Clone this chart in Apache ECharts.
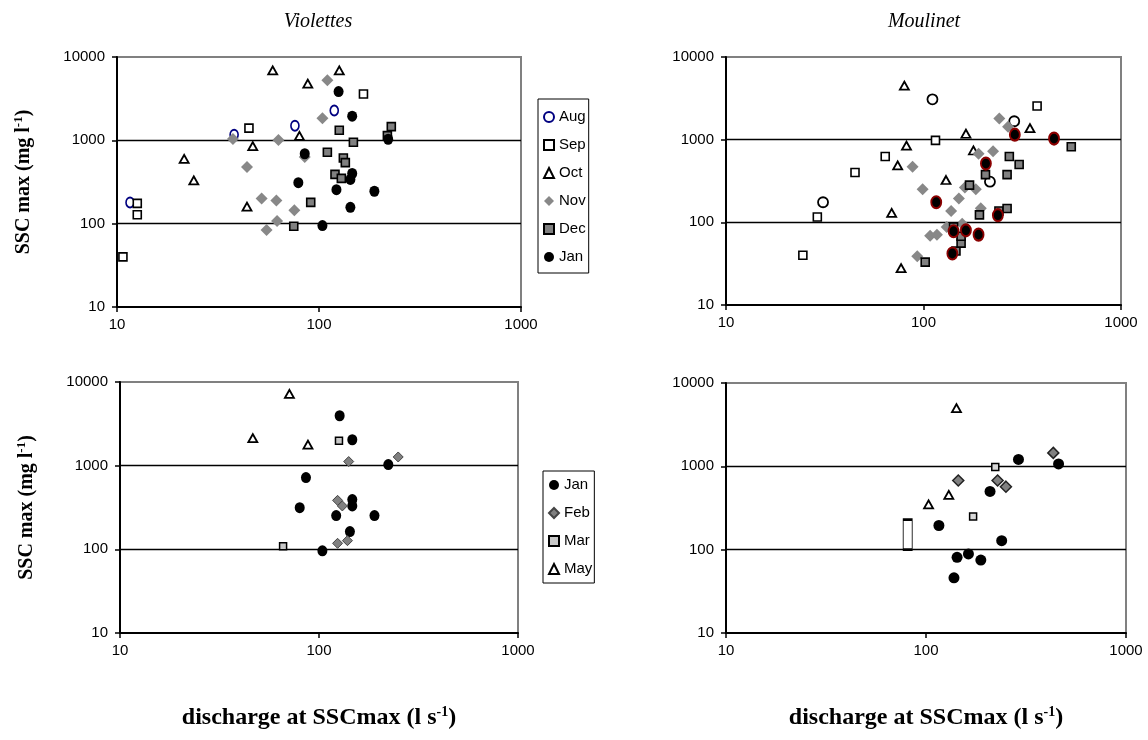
<!DOCTYPE html>
<html><head><meta charset="utf-8">
<script src="https://cdn.jsdelivr.net/npm/echarts@6/dist/echarts.min.js"></script>
<style>html,body{margin:0;padding:0;background:#fff}#c{width:1148px;height:740px}</style>
</head><body><div id="c"></div>
<script>
// ---- tick labels ----
const xTickLabels = ['10', '100', '1000'];
const yTickLabels = ['10', '100', '1000', '10000'];
const panelTitles = ['Violettes', 'Moulinet'];
const legendTop = ['Aug', 'Sep', 'Oct', 'Nov', 'Dec', 'Jan'];
const legendBottom = ['Jan', 'Feb', 'Mar', 'May'];

// ---- Violettes, autumn (discharge l/s, SSC mg/l) ----
const violAug = [[11.6,180],[38,1170],[76,1500],[119,2280]];
const violSep = [[10.7,40],[12.6,175],[12.6,128],[45,1400],[166,3600]];
const violOct = [[21.5,600],[24,330],[44,160],[47,850],[59,6900],[88,4800],[80,1130],[126,6900]];
const violNov = [[37.5,1040],[44,480],[52,200],[61.5,190],[55,84],[62,108],[63,1010],[75.5,145],[85,630],[104,1840],[110,5250]];
const violDec = [[75,93],[91,180],[110,720],[126,1320],[148,950],[132,615],[135,540],[120,390],[129,350],[228,1460],[218,1140]];
const violJan = [[125,3850],[146,1950],[85,690],[79,310],[146,400],[143,340],[122,256],[188,245],[143,157],[104,95],[220,1030]];

// ---- Moulinet, autumn ----
const moulAug = [[31,175],[111,3080],[288,1670],[217,310]];
const moulSep = [[24.5,40],[29,116],[45,400],[64,625],[115,980],[376,2550]];
const moulOct = [[80,4500],[82,845],[74,490],[69,130],[77,28],[130,325],[164,1180],[179,740],[346,1380]];
const moulNov = [[88,470],[99,252],[151,194],[138,137],[162,264],[184,252],[190,675],[225,726],[242,1800],[268,1430],[195,148],[131,88],[157,96],[108,69],[117,71],[93,39]];
const moulDec = [[102,33],[146,45],[155,56],[155,68],[142,88],[171,282],[206,378],[192,123],[241,137],[265,147],[265,378],[272,625],[305,500],[560,820]];
const moulJan = [[290,1150],[458,1030],[207,514],[116,175],[238,122],[142,78],[164,80],[190,71],[140,42]];

// ---- Violettes, winter/spring ----
const violJan2 = [[127,3950],[147,2040],[86,720],[80,315],[122,253],[147,393],[147,330],[190,253],[143,163],[104,96],[223,1030]];
const violFeb = [[141,1120],[250,1270],[124,385],[131,330],[124,118],[139,127]];
const violMar = [[126,1990],[66,109]];
const violMay = [[71,7200],[46.5,2130],[88,1780]];

// ---- Moulinet, winter/spring ----
const moulJan2 = [[290,1210],[460,1070],[209,500],[116,195],[239,128],[143,81],[163,89],[188,75],[138,46]];
const moulFeb = [[433,1450],[145,675],[228,675],[251,570]];
const moulMar = [[222,985],[172,250]];
const moulMay = [[142,5000],[130,455],[103,350]];
const moulBox = [[81,152]];

const chart = echarts.init(document.getElementById('c'), null, {renderer: 'canvas'});

const grids = [
  {left: 117, top: 57, width: 404, height: 250},
  {left: 726, top: 57, width: 395, height: 248},
  {left: 120, top: 382, width: 398, height: 251},
  {left: 726, top: 383, width: 400, height: 250}
];

function lbl(list) {
  return function (v) {
    const r = Math.round(Math.log10(v));
    const s = String(Math.pow(10, r));
    return list.indexOf(s) >= 0 ? s : '';
  };
}

function rich(size, sup, pad) {
  return {
    t: {fontFamily: 'Liberation Serif', fontWeight: 'bold', fontSize: size, color: '#000'},
    s: {fontFamily: 'Liberation Serif', fontWeight: 'bold', fontSize: sup, color: '#000', padding: [0, 0, pad, 0]}
  };
}

const xAxes = grids.map((g, i) => ({
  type: 'log', logBase: 10, min: 10, max: 1000, gridIndex: i,
  name: i >= 2 ? '{t|discharge at SSCmax (l s}{s|-1}{t|)}' : '',
  nameLocation: 'middle', nameGap: 72,
  nameTextStyle: {rich: rich(24, 14, 12)},
  axisLine: {show: true, lineStyle: {color: '#000', width: 2}},
  axisTick: {show: true, inside: false, length: 5, lineStyle: {color: '#000', width: 1.5}},
  minorTick: {show: false},
  axisLabel: {formatter: lbl(xTickLabels), fontFamily: 'Liberation Sans', fontSize: 15, color: '#000', margin: 10},
  splitLine: {show: false}
}));

const yAxes = grids.map((g, i) => ({
  type: 'log', logBase: 10, min: 10, max: 10000, gridIndex: i,
  name: (i % 2 === 0) ? '{t|SSC max (mg l}{s|-1}{t|)}' : '',
  nameLocation: 'middle', nameGap: 82, nameRotate: 90,
  nameTextStyle: {rich: rich(20, 13, 10)},
  axisLine: {show: true, lineStyle: {color: '#000', width: 2}},
  axisTick: {show: true, inside: false, length: 5, lineStyle: {color: '#000', width: 1.5}},
  axisLabel: {formatter: lbl(yTickLabels), fontFamily: 'Liberation Sans', fontSize: 15, color: '#000', margin: 12},
  splitLine: {show: true, showMinLine: false, showMaxLine: false, lineStyle: {color: '#000', width: 1.3}}
}));

function S(name, data, gi, symbol, size, itemStyle) {
  return {
    type: 'scatter', name: name, data: data,
    xAxisIndex: gi, yAxisIndex: gi,
    symbol: symbol, symbolSize: size,
    itemStyle: Object.assign({opacity: 1}, itemStyle),
    emphasis: {disabled: true}
  };
}

const openSq = {color: '#fff', borderColor: '#000', borderWidth: 1.6};
const openTri = {color: '#fff', borderColor: '#000', borderWidth: 1.8};
const grayDia = {color: '#888888', borderWidth: 0};
const graySq = {color: '#808080', borderColor: '#000', borderWidth: 1.6};
const blackDot = {color: '#000', borderWidth: 0};

const series = [
  // Violettes autumn
  S('Aug', violAug, 0, 'circle', [8, 10], {color: '#fff', borderColor: '#000080', borderWidth: 1.8}),
  S('Sep', violSep, 0, 'rect', 8, openSq),
  S('Oct', violOct, 0, 'triangle', [9, 8], openTri),
  S('Nov', violNov, 0, 'diamond', 12, grayDia),
  S('Dec', violDec, 0, 'rect', 8, graySq),
  S('Jan', violJan, 0, 'circle', [10, 11], blackDot),
  // Moulinet autumn
  S('Aug', moulAug, 1, 'circle', 10, {color: '#fff', borderColor: '#000', borderWidth: 1.8}),
  S('Sep', moulSep, 1, 'rect', 8, openSq),
  S('Oct', moulOct, 1, 'triangle', [9, 8], openTri),
  S('Nov', moulNov, 1, 'diamond', 12, grayDia),
  S('Dec', moulDec, 1, 'rect', 8, graySq),
  S('Jan', moulJan, 1, 'circle', [10, 12], {color: '#000', borderColor: '#8b0000', borderWidth: 2}),
  // Violettes winter
  S('Jan', violJan2, 2, 'circle', [10, 11], blackDot),
  S('Feb', violFeb, 2, 'diamond', 10, {color: '#808080', borderColor: '#444', borderWidth: 1}),
  S('Mar', violMar, 2, 'rect', 7, {color: '#c8c8c8', borderColor: '#000', borderWidth: 1.5}),
  S('May', violMay, 2, 'triangle', [9, 8], openTri),
  // Moulinet winter
  S('box', moulBox, 3, 'rect', [9, 30], {color: '#fff', borderColor: '#000', borderWidth: 1.5}),
  S('Jan', moulJan2, 3, 'circle', [11, 11], blackDot),
  S('Feb', moulFeb, 3, 'diamond', 11, {color: '#808080', borderColor: '#222', borderWidth: 1.5}),
  S('Mar', moulMar, 3, 'rect', 7, {color: '#d8d8d8', borderColor: '#000', borderWidth: 1.5}),
  S('May', moulMay, 3, 'triangle', [9, 8], openTri)
];

const legendText = {fontFamily: 'Liberation Sans', fontSize: 15, color: '#000', lineHeight: 28};

chart.setOption({
  animation: false,
  backgroundColor: '#fff',
  grid: grids.map(g => Object.assign({show: true, borderColor: '#808080', borderWidth: 2, backgroundColor: 'rgba(0,0,0,0)'}, g)),
  xAxis: xAxes,
  yAxis: yAxes,
  legend: [
    {data: legendTop, orient: 'vertical', left: 538, top: 99, itemWidth: 10, itemHeight: 10, itemGap: 0,
     textStyle: legendText, borderColor: '#000', borderWidth: 1, padding: [4, 3, 2, 5], selectedMode: false},
    {data: legendBottom, orient: 'vertical', left: 543, top: 471, itemWidth: 10, itemHeight: 10, itemGap: 0,
     textStyle: legendText, borderColor: '#000', borderWidth: 1, padding: [0, 2, 0, 5], selectedMode: false}
  ],
  graphic: panelTitles.map((t, i) => ({
    type: 'text', x: i === 0 ? 318 : 924, y: 22,
    style: {text: t, font: 'italic 20px "Liberation Serif"', fill: '#000', textAlign: 'center', textVerticalAlign: 'middle'}
  })),
  series: series
});
</script></body></html>
